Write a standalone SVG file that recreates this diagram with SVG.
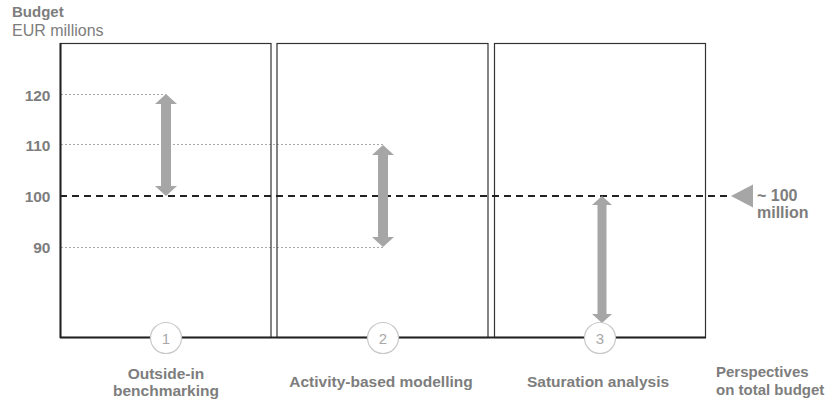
<svg xmlns="http://www.w3.org/2000/svg" width="832" height="402" viewBox="0 0 832 402">
<style>
text{font-family:"Liberation Sans",Arial,sans-serif;fill:#7d7d7d}
.b{font-weight:bold}
.tick{font-weight:bold;font-size:15.5px;text-anchor:end}
.box{fill:none;stroke:#333;stroke-width:1.2}
.dot{stroke:#aaa;stroke-width:1.2;stroke-dasharray:2,2;fill:none}
.arr{fill:#a6a6a6}
.circ{fill:#fff;stroke:#c8c8c8;stroke-width:1.2}
.num{font-size:15px;fill:#a8a8a8;text-anchor:middle}
.lab{font-size:15.5px;font-weight:bold;text-anchor:middle}
</style>
<rect width="832" height="402" fill="#fff"/>
<g id="axis-labels">
<text class="b" x="12" y="17" font-size="15">Budget</text>
<text x="12" y="36" font-size="16">EUR millions</text>
<text class="tick" x="50.5" y="100.5">120</text>
<text class="tick" x="50.5" y="150.5">110</text>
<text class="tick" x="50.5" y="201.5">100</text>
<text class="tick" x="50.5" y="253">90</text>
</g>
<g id="gridlines">
<line class="dot" x1="61" y1="94.5" x2="166" y2="94.5"/>
<line class="dot" x1="61" y1="144.5" x2="383" y2="144.5"/>
<line class="dot" x1="61" y1="247.5" x2="383" y2="247.5"/>
</g>
<g id="box1">
<rect class="box" x="60.5" y="43.5" width="210.5" height="294"/>
<line x1="60.5" y1="43" x2="60.5" y2="338" stroke="#222" stroke-width="2"/>
</g>
<g id="box2"><rect class="box" x="277" y="43.5" width="211" height="294"/></g>
<g id="box3"><rect class="box" x="494.5" y="43.5" width="211" height="294"/></g>
<line x1="60" y1="337.5" x2="706" y2="337.5" stroke="#222" stroke-width="2"/>
<g id="connectors">
<line x1="60" y1="196" x2="731" y2="196" stroke="#222" stroke-width="2" stroke-dasharray="7,5"/>
<polygon class="arr" points="731,196 753,184.5 753,207.5"/>
<polygon class="arr" points="166,94 177,104 171,104 171,186 177,186 166,196 155,186 161,186 161,104 155,104"/>
<polygon class="arr" points="383,145 394,155 388,155 388,237 394,237 383,247 372,237 378,237 378,155 372,155"/>
<polygon class="arr" points="602,196 612,205 606.5,205 606.5,314 612,314 602,323 592,314 597.5,314 597.5,205 592,205"/>
</g>
<g id="step1">
<circle class="circ" cx="166" cy="338" r="15.5"/>
<text class="num" x="166" y="343.5">1</text>
<text class="lab" x="166" y="379" font-size="16">Outside-in</text>
<text class="lab" x="166" y="396" font-size="16">benchmarking</text>
</g>
<g id="step2">
<circle class="circ" cx="383" cy="338" r="15.5"/>
<text class="num" x="383" y="343.5">2</text>
<text class="lab" x="381" y="386.5">Activity-based modelling</text>
</g>
<g id="step3">
<circle class="circ" cx="600" cy="338" r="15.5"/>
<text class="num" x="600" y="343.5">3</text>
<text class="lab" x="598" y="387" font-size="16">Saturation analysis</text>
</g>
<g id="total">
<text class="b" x="757" y="201" font-size="16">~ 100</text>
<text class="b" x="757" y="218" font-size="16">million</text>
<text class="b" x="716" y="377" font-size="15">Perspectives</text>
<text class="b" x="716" y="395" font-size="15">on total budget</text>
</g>
</svg>
